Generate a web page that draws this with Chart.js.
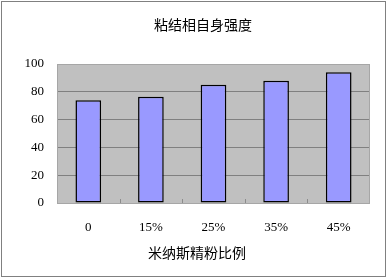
<!DOCTYPE html>
<html>
<head>
<meta charset="utf-8">
<script src="https://cdn.jsdelivr.net/npm/chart.js@4"></script>
<style>
  html, body { margin: 0; padding: 0; background: #fff; }
  #wrap { width: 387px; height: 278px; }
</style>
</head>
<body>
<div id="wrap"><canvas id="c" width="387" height="278"></canvas></div>
<script>
const categories = ["0", "15%", "25%", "35%", "45%"];
const strength = [74, 76.5, 85, 88, 94];
const yTicks = [0, 20, 40, 60, 80, 100];
const chartTitle = "粘结相自身强度";
const xTitle = "米纳斯精粉比例";

// gray plot background + light frame, outer border, titles, small x ticks
const frame = {
  id: "frame",
  beforeDraw(chart) {
    const { ctx, chartArea: { left, top, right, bottom } } = chart;
    ctx.save();
    ctx.fillStyle = "#c0c0c0";
    ctx.fillRect(left, top, right - left, bottom - top);
    ctx.restore();
  },
  beforeDatasetsDraw(chart) {
    const { ctx, chartArea: { left, top, right, bottom } } = chart;
    ctx.save();
    ctx.strokeStyle = "#a6a6a6";
    ctx.lineWidth = 1;
    ctx.strokeRect(Math.round(left) + 0.5, Math.round(top) + 0.5,
      Math.round(right - left) - 1, Math.round(bottom - top));
    ctx.restore();
  },
  afterDraw(chart) {
    const { ctx, chartArea: { bottom }, scales: { x } } = chart;
    ctx.save();
    ctx.strokeStyle = "#808080";
    ctx.lineWidth = 1;
    ctx.strokeRect(1.5, 1.5, 384, 275);

    ctx.strokeStyle = "#8c8c8c";
    ctx.beginPath();
    for (let i = 0; i < categories.length - 1; i++) {
      const px = Math.round((x.getPixelForValue(i) + x.getPixelForValue(i + 1)) / 2) + 0.5;
      ctx.moveTo(px, bottom);
      ctx.lineTo(px, bottom - 4);
    }
    ctx.stroke();

    ctx.fillStyle = "#000";
    ctx.textAlign = "center";
    ctx.textBaseline = "middle";
    ctx.font = "14px 'Noto Sans CJK SC'";
    ctx.fillText(chartTitle, 203, 25);
    ctx.fillText(xTitle, 197, 253);
    ctx.restore();
  },
};

new Chart(document.getElementById("c"), {
  type: "bar",
  data: {
    labels: categories,
    datasets: [
      {
        data: strength,
        backgroundColor: "#9999ff",
        borderColor: "#000",
        borderWidth: 1.5,
        borderSkipped: false,
        barPercentage: 0.41,
        categoryPercentage: 1,
      },
    ],
  },
  options: {
    responsive: false,
    animation: false,
    layout: { padding: { top: 64, right: 17, left: 0, bottom: 0 } },
    plugins: {
      legend: { display: false },
      tooltip: { enabled: false },
    },
    scales: {
      x: {
        grid: { display: false, drawTicks: false },
        border: { display: false },
        ticks: {
          padding: 17,
          color: "#000",
          font: { family: "'Liberation Serif'", size: 13 },
        },
        afterFit(scale) { scale.height = 75; },
      },
      y: {
        min: 0,
        max: 100,
        afterBuildTicks(scale) { scale.ticks = yTicks.map((v) => ({ value: v })); },
        grid: {
          color: (c) => (c.tick && (c.tick.value === 0 || c.tick.value === 100) ? "rgba(0,0,0,0)" : "#808080"),
          lineWidth: 1,
          drawTicks: false,
        },
        border: { display: false },
        ticks: {
          padding: 13,
          color: "#000",
          font: { family: "'Liberation Serif'", size: 13 },
        },
        afterFit(scale) { scale.width = 57; },
      },
    },
  },
  plugins: [frame],
});
</script>
</body>
</html>
